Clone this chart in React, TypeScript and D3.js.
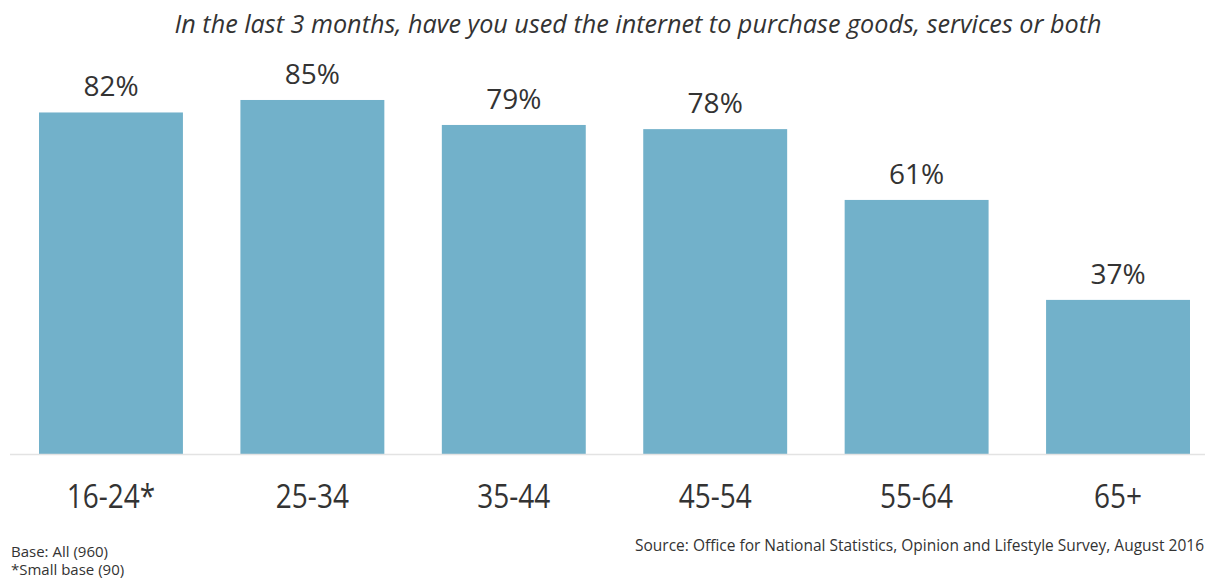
import React, { useEffect, useRef } from "react";
import * as d3 from "d3";

const categories = ["16-24*", "25-34", "35-44", "45-54", "55-64", "65+"];
const values = [82, 85, 79, 78, 61, 37];
const title = "In the last 3 months, have you used the internet to purchase goods, services or both";
const footnotes = ["Base: All (960)", "*Small base (90)"];
const source = "Source: Office for National Statistics, Opinion and Lifestyle Survey, August 2016";

const W = 1205;
const H = 581;
const FONT = "'Open Sans', 'Noto Sans', sans-serif";
const TEXT = "#333333";
const BAR = "#72b1ca";

export default function App() {
  const ref = useRef<SVGSVGElement>(null);

  useEffect(() => {
    document.body.style.margin = "0";
    const svg = d3.select(ref.current);
    svg.selectAll("*").remove();

    const x = d3.scaleBand<string>().domain(categories).range([39, 1190]).paddingInner(0.2854).paddingOuter(0);
    const y = d3.scaleLinear().domain([0, 100]).range([454, 37.5]);

    svg
      .append("text")
      .attr("x", 638)
      .attr("y", 33)
      .attr("text-anchor", "middle")
      .attr("font-family", FONT)
      .attr("font-style", "italic")
      .attr("font-size", 25.2)
      .attr("fill", TEXT)
      .text(title);

    svg
      .selectAll("rect.bar")
      .data(values)
      .join("rect")
      .attr("class", "bar")
      .attr("x", (_, i) => x(categories[i])!)
      .attr("y", (d) => y(d))
      .attr("width", x.bandwidth())
      .attr("height", (d) => y(0) - y(d))
      .attr("fill", BAR);

    svg
      .append("line")
      .attr("x1", 10)
      .attr("x2", W)
      .attr("y1", y(0) + 0.5)
      .attr("y2", y(0) + 0.5)
      .attr("stroke", "#e3e3e3")
      .attr("stroke-width", 1.5);

    svg
      .selectAll("text.val")
      .data(values)
      .join("text")
      .attr("class", "val")
      .attr("x", (_, i) => x(categories[i])! + x.bandwidth() / 2)
      .attr("y", (d) => y(d) - 16)
      .attr("text-anchor", "middle")
      .attr("font-family", FONT)
      .attr("font-size", 28)
      .attr("fill", TEXT)
      .text((d) => `${d}%`);

    svg
      .selectAll("text.cat")
      .data(categories)
      .join("text")
      .attr("class", "cat")
      .attr("transform", (d) => `translate(${x(d)! + x.bandwidth() / 2},508) scale(1,1.15)`)
      .attr("text-anchor", "middle")
      .attr("font-family", FONT)
      .attr("font-size", 28)
      .attr("fill", TEXT)
      .text((d) => d);

    svg
      .selectAll("text.foot")
      .data(footnotes)
      .join("text")
      .attr("class", "foot")
      .attr("x", 11)
      .attr("y", (_, i) => 557 + i * 18)
      .attr("font-family", FONT)
      .attr("font-size", 15)
      .attr("fill", TEXT)
      .text((d) => d);

    svg
      .append("text")
      .attr("x", 1204)
      .attr("y", 551)
      .attr("text-anchor", "end")
      .attr("font-family", FONT)
      .attr("font-size", 15.5)
      .attr("fill", TEXT)
      .text(source);
  }, []);

  return <svg ref={ref} width={W} height={H} style={{ display: "block", background: "#fff" }} />;
}
